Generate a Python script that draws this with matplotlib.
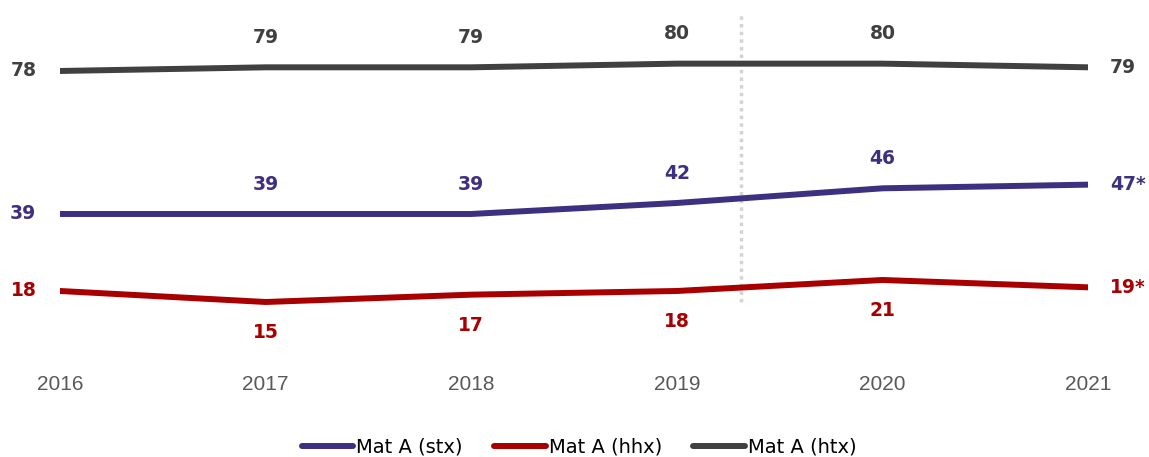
import matplotlib.pyplot as plt

# data
years = [2016, 2017, 2018, 2019, 2020, 2021]
htx = [78, 79, 79, 80, 80, 79]
stx = [39, 39, 39, 42, 46, 47]
hhx = [18, 15, 17, 18, 21, 19]
stx_labels = ['39', '39', '39', '42', '46', '47*']
hhx_labels = ['18', '15', '17', '18', '21', '19*']
htx_labels = ['78', '79', '79', '80', '80', '79']
series_names = ['Mat A (stx)', 'Mat A (hhx)', 'Mat A (htx)']

# break between 2019 and 2020
break_x = 2019.31

purple = '#3E2F80'
red = '#A80000'
grey = '#404040'
tick_font = ['Liberation Sans', 'DejaVu Sans']

fig = plt.figure(figsize=(11.49, 4.57), dpi=100)
ax = fig.add_axes([60 / 1149, 97 / 457, 1028 / 1149, 350 / 457])
ax.set_xlim(2016, 2021)
ax.set_ylim(-0.82, 94.63)

ax.plot([break_x, break_x], [15.0, 94.1], color='#D3D3D3', lw=2.5,
        linestyle=(0, (1, 1.2)), zorder=1)

lines = []
for vals, labels, col, name, below in [(stx, stx_labels, purple, series_names[0], False),
                                       (hhx, hhx_labels, red, series_names[1], True),
                                       (htx, htx_labels, grey, series_names[2], False)]:
    ln, = ax.plot(years, vals, color=col, lw=4.3, solid_capstyle='round',
                  solid_joinstyle='round', label=name, zorder=2)
    lines.append(ln)
    for i, (x, y, t) in enumerate(zip(years, vals, labels)):
        if i == 0:
            off, ha = (-17, 0), 'right'
        elif i == len(years) - 1:
            off, ha = (16, 0), 'left'
        else:
            off, ha = ((0, -22) if below else (0, 21.5)), 'center'
        ax.annotate(t, (x, y), xytext=off, textcoords='offset points',
                    ha=ha, va='center', fontsize=13.5, fontweight='bold',
                    color=col, family='DejaVu Sans', annotation_clip=False)

for s in ax.spines.values():
    s.set_visible(False)
ax.set_yticks([])
ax.set_xticks(years)
ax.set_xticklabels([str(y) for y in years], color='#595959', fontsize=15,
                   family=tick_font)
ax.tick_params(axis='x', length=0, pad=11)

fig.legend(handles=lines, loc='center', bbox_to_anchor=(579 / 1149, 1 - 447 / 457),
           ncol=3, frameon=False, handlelength=2.65, handletextpad=0.16,
           columnspacing=1.6, prop={'family': 'DejaVu Sans', 'size': 14})

fig.savefig('out.png', dpi=100)
